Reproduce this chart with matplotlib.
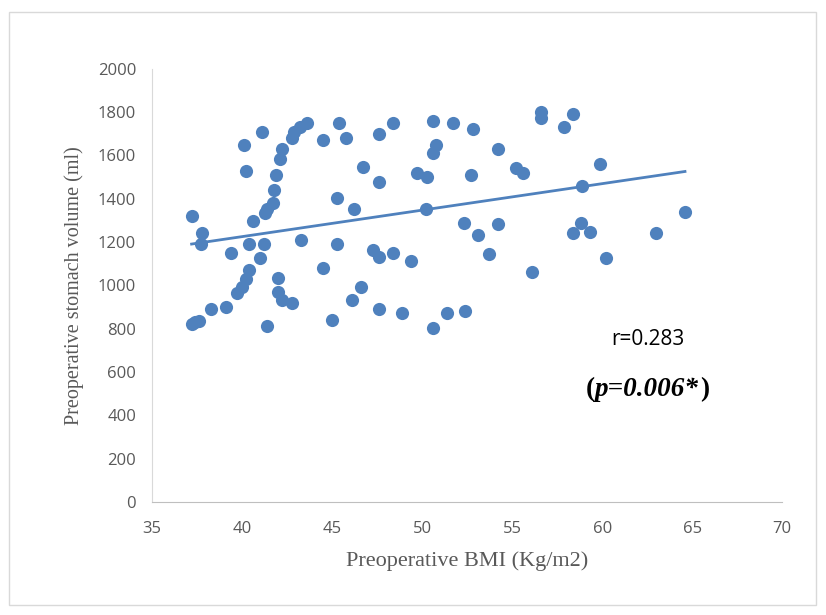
import matplotlib
matplotlib.use("Agg")
import matplotlib.pyplot as plt
from matplotlib.patches import Rectangle
import numpy as np

# Preoperative BMI (x) and stomach volume (y)
bmi = [37.2, 37.2, 37.4, 37.6, 37.8, 37.7, 38.3, 39.1, 39.4, 39.7,
       40.0, 40.2, 40.4, 40.1, 40.2, 40.4, 40.6, 41.0, 41.1, 41.2,
       41.3, 41.4, 41.4, 41.7, 41.8, 41.9, 42.0, 42.0, 42.1, 42.2,
       42.2, 42.8, 42.8, 42.9, 43.2, 43.3, 43.6, 44.5, 44.5, 45.0,
       45.3, 45.3, 45.4, 45.8, 46.1, 46.2, 46.6, 46.7, 47.3, 47.6,
       47.6, 47.6, 47.6, 48.4, 48.4, 48.9, 49.4, 49.7, 50.3, 50.2,
       50.6, 50.6, 50.8, 50.6, 51.4, 51.7, 52.3, 52.4, 52.8, 52.7,
       53.1, 53.7, 54.2, 54.2, 55.2, 55.6, 56.1, 56.6, 56.6, 57.9,
       58.4, 58.4, 58.8, 58.9, 59.3, 59.9, 60.2, 63.0, 64.6]
volume = [1320, 820, 830, 836, 1242, 1192, 891, 901, 1150, 965,
          993, 1030, 1072, 1649, 1529, 1192, 1298, 1125, 1709, 1192,
          1335, 1353, 813, 1381, 1441, 1510, 1034, 970, 1584, 1630,
          933, 920, 1681, 1709, 1732, 1210, 1750, 1672, 1080, 840,
          1192, 1404, 1750, 1681, 933, 1353, 993, 1547, 1164, 1700,
          1131, 1478, 891, 1750, 1150, 873, 1112, 1520, 1501, 1353,
          1760, 1612, 1649, 804, 873, 1750, 1289, 882, 1723, 1510,
          1233, 1145, 1630, 1284, 1543, 1520, 1062, 1801, 1773, 1732,
          1242, 1792, 1289, 1460, 1247, 1561, 1127, 1242, 1339]

x_ticks = [35, 40, 45, 50, 55, 60, 65, 70]
y_ticks = [0, 200, 400, 600, 800, 1000, 1200, 1400, 1600, 1800, 2000]

blue = "#4F81BD"
grey = "#595959"

fig = plt.figure(figsize=(8.26, 6.15), dpi=100)
# chart area border
fig.patches.append(Rectangle((0.011, 0.016), 0.977, 0.965, transform=fig.transFigure,
                             fill=False, edgecolor="#d9d9d9", linewidth=1.0))

ax = fig.add_axes([0.184, 0.184, 0.763, 0.704])
ax.scatter(bmi, volume, s=90, color=blue, zorder=3, linewidths=0)

# linear trendline
k, b = np.polyfit(bmi, volume, 1)
xs = np.array([min(bmi), max(bmi)])
ax.plot(xs, k * xs + b, color=blue, linewidth=2.0, zorder=2)

ax.set_xlim(35, 70)
ax.set_ylim(0, 2000)
ax.set_xticks(x_ticks)
ax.set_yticks(y_ticks)
ax.tick_params(length=0, labelsize=12, labelcolor=grey)
ax.tick_params(axis="x", pad=14)
ax.tick_params(axis="y", pad=11.5)
for lab in ax.get_xticklabels() + ax.get_yticklabels():
    lab.set_family("Open Sans")
for s in ["top", "right"]:
    ax.spines[s].set_visible(False)
ax.spines["left"].set_color("#d9d9d9")
ax.spines["bottom"].set_color("#bfbfbf")

ax.set_xlabel("Preoperative BMI (Kg/m2)", family="Liberation Serif", fontsize=16,
              color=grey, labelpad=10)
ax.set_ylabel("Preoperative stomach volume (ml)", family="Liberation Serif", fontsize=14.5,
              color=grey, labelpad=10)

ax.text(62.55, 748, "r=0.283", family="Open Sans", fontsize=15, color="black",
        ha="center", va="center")

# (p=0.006*) with upright parentheses and bold italic body
fig.canvas.draw()
r = fig.canvas.get_renderer()
y0 = 517
t1 = ax.text(59.1, y0, "(", family="Liberation Serif", fontsize=19.5, weight="bold",
             va="center")
ext = t1.get_window_extent(r)
x1 = ax.transData.inverted().transform((ext.x1, 0))[0]
t2 = ax.text(x1, y0, "p=0.006*", family="Liberation Serif", fontsize=19.5, weight="bold",
             style="italic", va="center")
ext = t2.get_window_extent(r)
x2 = ax.transData.inverted().transform((ext.x1 + 1, 0))[0]
ax.text(x2, y0, ")", family="Liberation Serif", fontsize=19.5, weight="bold", va="center")

fig.savefig("out.png", dpi=100)
